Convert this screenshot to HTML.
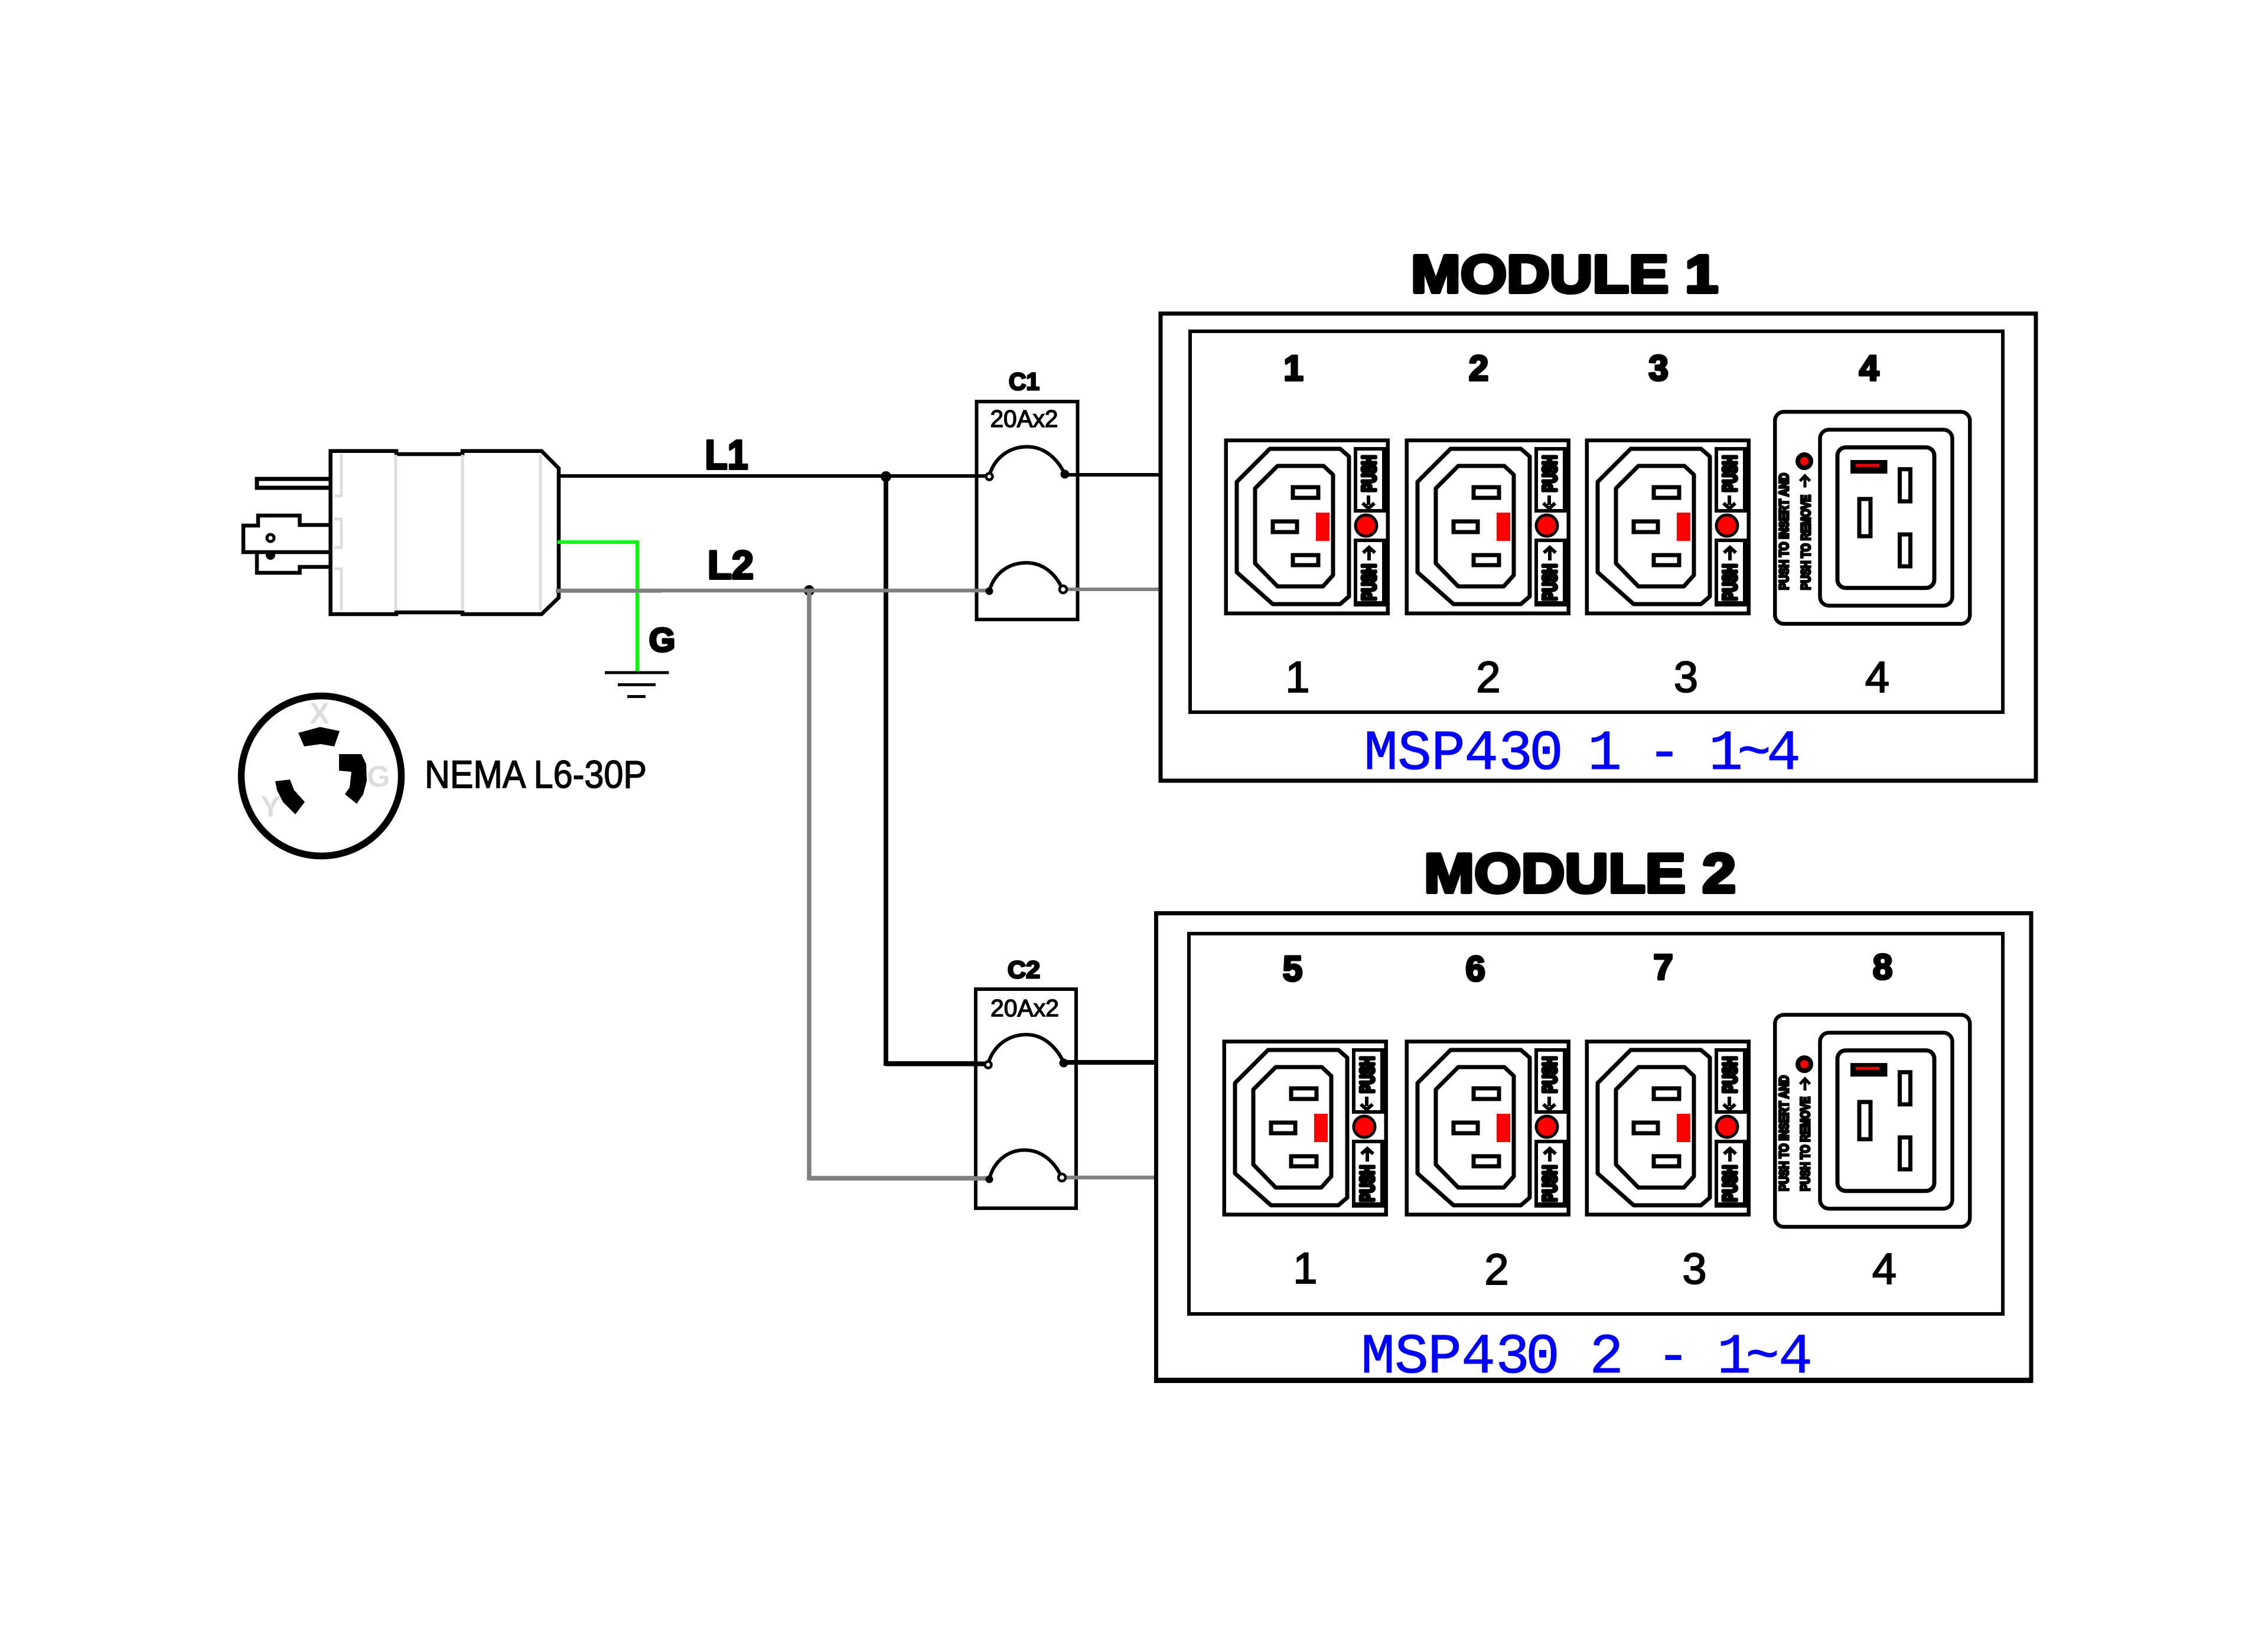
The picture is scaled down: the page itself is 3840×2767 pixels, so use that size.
<!DOCTYPE html>
<html><head><meta charset="utf-8"><title>MSP430 modules wiring</title>
<style>
html,body{margin:0;padding:0;background:#fff}
svg{display:block}
text{font-family:"Liberation Sans",sans-serif}
.h{font-weight:bold;stroke:#000;stroke-linejoin:round;fill:#000}
.m{font-family:"Liberation Mono",monospace;fill:#000;stroke:#000;stroke-width:2}
.b{font-family:"Liberation Mono",monospace;fill:#0000ff;stroke:#0000ff;stroke-width:1;font-size:96px;text-anchor:middle}
.t{font-weight:bold;font-size:32px;stroke:#000;stroke-width:6;stroke-linejoin:round;fill:#000}
.s{font-weight:bold;font-size:22px;stroke:#000;stroke-width:3.5;fill:#000}
</style></head><body>
<svg xmlns="http://www.w3.org/2000/svg" width="3840" height="2767" viewBox="0 0 3840 2767">
<defs>
<g id="c13">
<rect x="2.75" y="2.75" width="274" height="293" fill="#fff" stroke="#000" stroke-width="6.5"/>
<polygon points="77,17 196,17 211,30 211,267 196,280 82,280 21,226 21,73" fill="#fff" stroke="#000" stroke-width="7" stroke-linejoin="round"/>
<polygon points="90,46 168,46 184,61 184,231 167,250 90,250 52,211 52,84" fill="#fff" stroke="#000" stroke-width="7" stroke-linejoin="round"/>
<rect x="116" y="82" width="43" height="18" fill="#fff" stroke="#000" stroke-width="7"/>
<rect x="82" y="140" width="41" height="18" fill="#fff" stroke="#000" stroke-width="7"/>
<rect x="116" y="197" width="43" height="17" fill="#fff" stroke="#000" stroke-width="7"/>
<rect x="155" y="125" width="23" height="48" fill="#ff0000"/>
<path d="M219,14H279V125H219Z M225,20V119H267V20Z" fill="#000" fill-rule="evenodd"/>
<path d="M219,169H279V284H219Z M225,175V275H267V175Z" fill="#000" fill-rule="evenodd"/>
<circle cx="240" cy="147" r="18" fill="#ff0000" stroke="#000" stroke-width="5"/>
<path d="M244,96V112 M234,109L244,118L254,109" fill="none" stroke="#000" stroke-width="6"/>
<path d="M245,206V184 M235,193L245,184L255,193" fill="none" stroke="#000" stroke-width="6"/>
</g>
<g id="c19">
<rect x="2.75" y="2.75" width="330" height="359" rx="15" fill="#fff" stroke="#000" stroke-width="6.5"/>
<rect x="79" y="33" width="224" height="298" rx="15" fill="#fff" stroke="#000" stroke-width="6.5"/>
<rect x="108.5" y="63" width="164" height="238" rx="14" fill="#fff" stroke="#000" stroke-width="7"/>
<rect x="130.5" y="84.4" width="62.5" height="23" fill="#000"/>
<rect x="139.5" y="91" width="40" height="5" fill="#ff0000"/>
<rect x="214" y="100" width="18" height="54.4" fill="#fff" stroke="#000" stroke-width="7"/>
<rect x="145.5" y="150.4" width="19" height="63" fill="#fff" stroke="#000" stroke-width="7"/>
<rect x="214" y="210.4" width="18" height="54" fill="#fff" stroke="#000" stroke-width="7"/>
<circle cx="52.5" cy="86.4" r="11" fill="#ff0000" stroke="#000" stroke-width="8"/>
<path d="M53.5,131V114 M45,120L53.5,111L62,120" fill="none" stroke="#000" stroke-width="5"/>
</g>
</defs>
<rect width="3840" height="2767" fill="#fff"/>

<!-- wiring -->
<path d="M1500,806V1801H1675" fill="none" stroke="#000" stroke-width="8"/>
<path d="M946,806H1675" fill="none" stroke="#000" stroke-width="6"/>
<circle cx="1500" cy="807" r="9" fill="#000"/>
<circle cx="1370" cy="1000" r="9" fill="#000"/>
<path d="M1370,1000V1995H1675" fill="none" stroke="#808080" stroke-width="7.5"/>

<!-- C1 -->
<rect x="1653.5" y="680" width="171" height="369" fill="#fff" stroke="#000" stroke-width="6"/>
<path d="M1500,806H1675" fill="none" stroke="#000" stroke-width="6"/>
<path d="M941,1000H1675" fill="none" stroke="#808080" stroke-width="6.5"/>
<path d="M1803,804H1965" fill="none" stroke="#000" stroke-width="6"/>
<path d="M1800,998H1965" fill="none" stroke="#808080" stroke-width="6"/>
<path d="M1675,805C1685,772 1712,756.5 1739,756.5C1768,756.5 1790,776 1803,803" fill="none" stroke="#000" stroke-width="6"/>
<path d="M1675,1000C1685,968 1710,953 1738,953C1766,953 1788,972 1799,998" fill="none" stroke="#000" stroke-width="6"/>
<circle cx="1675" cy="807" r="5.5" fill="#fff" stroke="#000" stroke-width="4.5"/>
<circle cx="1803" cy="803" r="7.5" fill="#000"/>
<circle cx="1675" cy="1001" r="6.5" fill="#000"/>
<circle cx="1800" cy="998" r="6" fill="#fff" stroke="#000" stroke-width="4.5"/>
<text x="1734" y="660" class="h" font-size="41" stroke-width="3" text-anchor="middle" textLength="52" lengthAdjust="spacingAndGlyphs">C1</text>
<text x="1734" y="723" font-size="41" stroke="#000" stroke-width="1.5" text-anchor="middle" textLength="115" lengthAdjust="spacingAndGlyphs">20Ax2</text>

<!-- C2 -->
<rect x="1652" y="1675" width="170" height="371" fill="#fff" stroke="#000" stroke-width="6"/>
<path d="M1500,1801.5H1673" fill="none" stroke="#000" stroke-width="8"/>
<path d="M1370,1995.5H1675" fill="none" stroke="#808080" stroke-width="7.5"/>
<path d="M1801,1799H1957" fill="none" stroke="#000" stroke-width="8"/>
<path d="M1798,1994H1957" fill="none" stroke="#808080" stroke-width="6.5"/>
<path d="M1673,1801C1683,1768 1710,1752 1738,1752C1766,1752 1788,1772 1801,1799" fill="none" stroke="#000" stroke-width="6"/>
<path d="M1675,1996C1684,1964 1708,1947.5 1735,1947.5C1763,1947.5 1786,1967 1797,1993" fill="none" stroke="#000" stroke-width="6"/>
<circle cx="1673" cy="1803" r="5.5" fill="#fff" stroke="#000" stroke-width="4.5"/>
<circle cx="1801" cy="1800" r="7.5" fill="#000"/>
<circle cx="1675" cy="1997" r="6.5" fill="#000"/>
<circle cx="1798" cy="1994" r="6" fill="#fff" stroke="#000" stroke-width="4.5"/>
<text x="1733.5" y="1656" class="h" font-size="41" stroke-width="3" text-anchor="middle" textLength="55" lengthAdjust="spacingAndGlyphs">C2</text>
<text x="1735" y="1721" font-size="41" stroke="#000" stroke-width="1.5" text-anchor="middle" textLength="116" lengthAdjust="spacingAndGlyphs">20Ax2</text>

<!-- plug -->
<g fill="none" stroke="#000" stroke-width="6.5" stroke-linejoin="miter">
<path d="M559.6,811H435V826H559.6" stroke-width="7"/>
<path d="M559.6,889H507.5V873H437V890H412V935H559.6" fill="#fff"/>
<path d="M435,937V970H507.5V960H559.6"/>
</g>
<circle cx="458" cy="911" r="6" fill="#fff" stroke="#000" stroke-width="5"/>
<circle cx="458" cy="940" r="8" fill="#000"/>
<path d="M559.6,763.8H671V769H783V763.8H917L946,793V1012L917,1040H783V1037H671V1040H559.6Z" fill="#fff" stroke="#000" stroke-width="6.5"/>
<g fill="none" stroke="#dcdcdc" stroke-width="5">
<path d="M670,770V1034M783,770V1034M915,770V1034"/>
<path d="M578,769V840H567M566,879H578V927H566M566,963H578V1034" stroke-width="4.5"/>
</g>
<path d="M944,918H1079V1139" fill="none" stroke="#00ff00" stroke-width="6"/>
<path d="M941,1000.5H1120" fill="none" stroke="#808080" stroke-width="6.5"/>
<path d="M1079,918V990" fill="none" stroke="#00ff00" stroke-width="6"/>
<path d="M1079,1010V1139" fill="none" stroke="#00ff00" stroke-width="6"/>
<path d="M1024,1139H1132.5M1046,1159.5H1110M1062,1179.5H1093" fill="none" stroke="#000" stroke-width="5"/>
<text x="1121" y="1103" class="h" font-size="57" stroke-width="4" text-anchor="middle">G</text>
<text x="1230" y="794" class="h" font-size="70" stroke-width="4" text-anchor="middle" textLength="73" lengthAdjust="spacingAndGlyphs">L1</text>
<text x="1237" y="980" class="h" font-size="68" stroke-width="4" text-anchor="middle" textLength="78" lengthAdjust="spacingAndGlyphs">L2</text>

<!-- NEMA -->
<circle cx="544" cy="1314" r="135.5" fill="#fff" stroke="#000" stroke-width="11.5"/>
<polygon points="505,1241 542,1231 575,1238 566,1264 543,1260 515,1264" fill="#000"/>
<polygon points="574,1277 612,1277 620,1294 621,1322 615,1345 604,1361 584,1345 592,1333 595,1307 574,1305" fill="#000"/>
<polygon points="466,1323 491,1320 498,1338 516,1358 500,1379 479,1358 469,1338" fill="#000"/>
<text x="541" y="1225" font-size="50" font-weight="bold" fill="#dddddd" text-anchor="middle">X</text>
<text x="641" y="1332" font-size="50" font-weight="bold" fill="#dddddd" text-anchor="middle">G</text>
<text x="458" y="1383" font-size="50" font-weight="bold" fill="#dddddd" text-anchor="middle">Y</text>
<text x="719" y="1334" font-size="66" fill="#000" stroke="#000" stroke-width="1.5" textLength="376" lengthAdjust="spacingAndGlyphs">NEMA L6-30P</text>

<!-- module 1 -->
<rect x="1965" y="531" width="1482" height="791" fill="#fff" stroke="#000" stroke-width="7"/>
<rect x="2015" y="561" width="1376" height="645" fill="none" stroke="#000" stroke-width="6"/>
<text x="2649" y="495" class="h" font-size="90" stroke-width="6" text-anchor="middle" textLength="520" lengthAdjust="spacingAndGlyphs">MODULE 1</text>
<g class="h" font-size="60" stroke-width="4" text-anchor="middle">
<text x="2190" y="644">1</text><text x="2503.5" y="644">2</text><text x="2808" y="644">3</text><text x="3164.5" y="644">4</text>
</g>
<g class="m" font-size="74" text-anchor="middle">
<text x="2197" y="1172">1</text><text x="2520" y="1172">2</text><text x="2854.5" y="1172">3</text><text x="3178.5" y="1172">4</text>
</g>
<text class="b" y="1302"><tspan x="2338">M</tspan><tspan x="2395">S</tspan><tspan x="2452">P</tspan><tspan x="2508">4</tspan><tspan x="2566">3</tspan><tspan x="2618">0</tspan><tspan x="2717">1</tspan><tspan x="2818">-</tspan><tspan x="2922">1</tspan><tspan x="2970">~</tspan><tspan x="3020">4</tspan></text>
<use href="#c13" x="2073" y="743"/><use href="#c13" x="2379" y="743"/><use href="#c13" x="2684" y="743"/>
<text class="t" transform="translate(2073,743) translate(256,90) rotate(-90)" textLength="62" lengthAdjust="spacingAndGlyphs">PUSH</text>
<text class="t" transform="translate(2073,743) translate(256,274) rotate(-90)" textLength="62" lengthAdjust="spacingAndGlyphs">PUSH</text>
<text class="t" transform="translate(2379,743) translate(256,90) rotate(-90)" textLength="62" lengthAdjust="spacingAndGlyphs">PUSH</text>
<text class="t" transform="translate(2379,743) translate(256,274) rotate(-90)" textLength="62" lengthAdjust="spacingAndGlyphs">PUSH</text>
<text class="t" transform="translate(2684,743) translate(256,90) rotate(-90)" textLength="62" lengthAdjust="spacingAndGlyphs">PUSH</text>
<text class="t" transform="translate(2684,743) translate(256,274) rotate(-90)" textLength="62" lengthAdjust="spacingAndGlyphs">PUSH</text>
<use href="#c19" x="3002.5" y="694.6"/>
<text class="s" transform="translate(3028,999) rotate(-90)" textLength="198" lengthAdjust="spacingAndGlyphs">PUSH TO INSERT AND</text>
<text class="s" transform="translate(3065,999) rotate(-90)" textLength="161" lengthAdjust="spacingAndGlyphs">PUSH TO REMOVE</text>

<!-- module 2 -->
<rect x="1957.5" y="1546.5" width="1481.5" height="791" fill="#fff" stroke="#000" stroke-width="7"/>
<path d="M1954,2337.5H3442" fill="none" stroke="#000" stroke-width="9"/>
<rect x="2013" y="1581" width="1378" height="644" fill="none" stroke="#000" stroke-width="6"/>
<text x="2675" y="1511" class="h" font-size="94" stroke-width="6" text-anchor="middle" textLength="528" lengthAdjust="spacingAndGlyphs">MODULE 2</text>
<g class="h" font-size="60" stroke-width="4" text-anchor="middle">
<text x="2188.5" y="1661">5</text><text x="2498" y="1661">6</text><text x="2816" y="1658">7</text><text x="3187.5" y="1658">8</text>
</g>
<g class="m" font-size="74" text-anchor="middle">
<text x="2210" y="2173">1</text><text x="2534" y="2175">2</text><text x="2869" y="2174">3</text><text x="3190.5" y="2174">4</text>
</g>
<text class="b" y="2324"><tspan x="2333">M</tspan><tspan x="2390">S</tspan><tspan x="2446">P</tspan><tspan x="2503">4</tspan><tspan x="2561">3</tspan><tspan x="2612">0</tspan><tspan x="2720">2</tspan><tspan x="2833">-</tspan><tspan x="2936">1</tspan><tspan x="2984">~</tspan><tspan x="3040">4</tspan></text>
<use href="#c13" x="2070" y="1761"/><use href="#c13" x="2379" y="1761"/><use href="#c13" x="2684" y="1761"/>
<text class="t" transform="translate(2070,1761) translate(256,90) rotate(-90)" textLength="62" lengthAdjust="spacingAndGlyphs">PUSH</text>
<text class="t" transform="translate(2070,1761) translate(256,274) rotate(-90)" textLength="62" lengthAdjust="spacingAndGlyphs">PUSH</text>
<text class="t" transform="translate(2379,1761) translate(256,90) rotate(-90)" textLength="62" lengthAdjust="spacingAndGlyphs">PUSH</text>
<text class="t" transform="translate(2379,1761) translate(256,274) rotate(-90)" textLength="62" lengthAdjust="spacingAndGlyphs">PUSH</text>
<text class="t" transform="translate(2684,1761) translate(256,90) rotate(-90)" textLength="62" lengthAdjust="spacingAndGlyphs">PUSH</text>
<text class="t" transform="translate(2684,1761) translate(256,274) rotate(-90)" textLength="62" lengthAdjust="spacingAndGlyphs">PUSH</text>
<use href="#c19" x="3002.5" y="1715.7"/>
<text class="s" transform="translate(3028,2017) rotate(-90)" textLength="196" lengthAdjust="spacingAndGlyphs">PUSH TO INSERT AND</text>
<text class="s" transform="translate(3064,2017) rotate(-90)" textLength="160" lengthAdjust="spacingAndGlyphs">PUSH TO REMOVE</text>
</svg>
</body></html>
